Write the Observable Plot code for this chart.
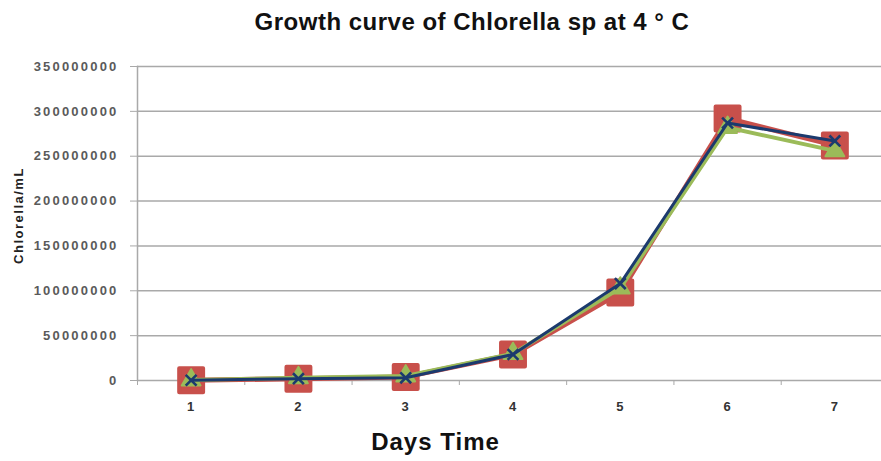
<!DOCTYPE html>
<html>
<head>
<meta charset="utf-8">
<script src="https://cdn.jsdelivr.net/npm/d3@7"></script>
<script src="https://cdn.jsdelivr.net/npm/@observablehq/plot@0.6"></script>
<style>
  body { margin: 0; background: #fff; width: 881px; height: 461px; overflow: hidden; }
  #title { height: 45px; font: bold 24px "Liberation Sans", Arial, sans-serif; color: #111; position: relative; letter-spacing: 0.5px; }
  #title span { position: absolute; left: 472px; top: 8px; line-height: 28px; transform: translateX(-50%); white-space: nowrap; }
  g[aria-label="y-axis tick label"] text { letter-spacing: 2.2px; }
  g[aria-label="x-axis tick label"] text { letter-spacing: 1px; }
</style>
</head>
<body>
<div id="title"><span>Growth curve of Chlorella sp at 4 ° C</span></div>
<div id="chart"></div>
<script>
const days = [1, 2, 3, 4, 5, 6, 7];
const series1 = [0.2e6, 2e6, 4e6, 29e6, 98e6, 292e6, 262e6];   // red squares
const series2 = [0.5e6, 3e6, 5e6, 30e6, 103e6, 282e6, 256e6];  // green triangles
const series3 = [0.3e6, 2e6, 3e6, 29e6, 108e6, 287e6, 267e6];  // blue crosses
const yTicks = [0, 50000000, 100000000, 150000000, 200000000, 250000000, 300000000, 350000000];
const categoryEdges = [0.5, 1.5, 2.5, 3.5, 4.5, 5.5, 6.5, 7.5];

const mk = (vals) => days.map((d, i) => ({day: d, value: vals[i]}));
const d1 = mk(series1), d2 = mk(series2), d3s = mk(series3);

const red = "#c8504b", green = "#9bbb59", navy = "#1b3a6e", grid = "#a9a9a9";

const chart = Plot.plot({
  width: 881,
  height: 416,
  marginTop: 21,
  marginBottom: 81,
  marginLeft: 137,
  marginRight: 0,
  style: {fontFamily: "'Liberation Sans', Arial, sans-serif", background: "#fff", overflow: "hidden"},
  x: {domain: [0.5, 7.5], range: [137, 888]},
  y: {domain: [0, 350000000]},
  marks: [
    Plot.gridY(yTicks, {stroke: grid, strokeOpacity: 1, strokeWidth: 1.5}),
    Plot.frame({anchor: "left", stroke: grid, strokeWidth: 1.5}),
    Plot.axisY(yTicks, {tickSize: 7, tickPadding: 12, stroke: grid, tickFormat: d => String(d),
      fill: "#5a5a5a", fontSize: 13, fontWeight: "bold", label: null}),
    Plot.axisX(categoryEdges, {tickSize: 5, stroke: grid, tickFormat: () => "", label: null}),
    Plot.axisX(days, {tickSize: 0, tickPadding: 21, fill: "#333", fontSize: 13, fontWeight: "bold", label: null}),
    Plot.text(["Days Time"], {frameAnchor: "bottom", dx: -74, dy: 69, fontSize: 24, fontWeight: "bold", fill: "#111", className: "xl"}),
    Plot.text(["Chlorella/mL"], {frameAnchor: "left", textAnchor: "middle", dx: -119, dy: -8, rotate: -90, fontSize: 13, fontWeight: "bold", fill: "#222", className: "yl"}),
    Plot.line(d1, {x: "day", y: "value", stroke: red, strokeWidth: 5}),
    Plot.dot(d1, {x: "day", y: "value", symbol: "square", r: 13.5, fill: red, stroke: red, strokeWidth: 4, strokeLinejoin: "round"}),
    Plot.line(d2, {x: "day", y: "value", stroke: green, strokeWidth: 4}),
    Plot.dot(d2, {x: "day", y: "value", symbol: "triangle", r: 7, fill: green, stroke: green, strokeWidth: 2, strokeLinejoin: "round"}),
    Plot.line(d3s, {x: "day", y: "value", stroke: navy, strokeWidth: 3}),
    Plot.dot(d3s, {x: "day", y: "value", symbol: "times", r: 5, stroke: navy, strokeWidth: 2.6})
  ]
});
document.getElementById("chart").appendChild(chart);
d3.select(chart).selectAll("g.xl text").style("letter-spacing", "1px");
d3.select(chart).selectAll("g.yl text").style("letter-spacing", "1.5px");
</script>
</body>
</html>
